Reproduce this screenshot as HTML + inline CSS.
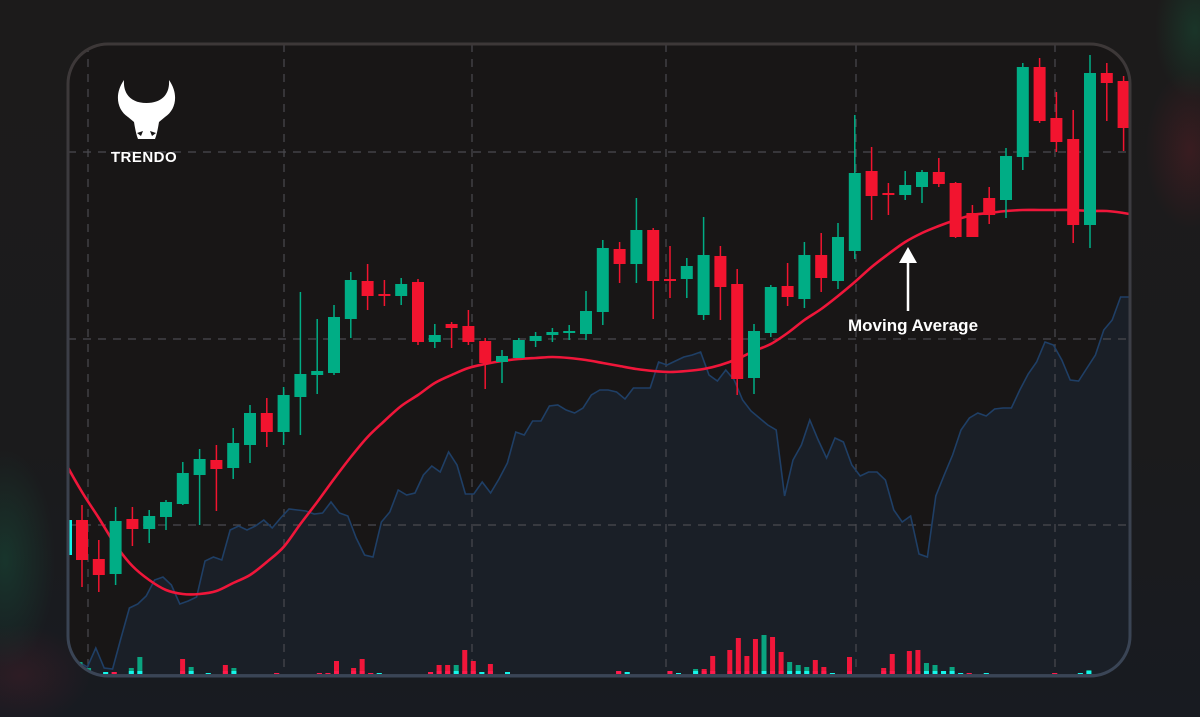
<!DOCTYPE html>
<html><head><meta charset="utf-8"><style>
html,body{margin:0;padding:0;width:1200px;height:717px;overflow:hidden;background:#1a1a1a;font-family:"Liberation Sans",sans-serif}
#bg{position:absolute;left:0;top:0;width:1200px;height:717px}
svg{position:absolute;left:0;top:0}
</style></head><body>
<div id="bg" style="background:
radial-gradient(ellipse 50px 110px at 5px 560px, rgba(20,120,80,0.28), transparent),
radial-gradient(ellipse 45px 80px at 1190px 150px, rgba(160,30,50,0.22), transparent),
radial-gradient(ellipse 40px 70px at 1195px 30px, rgba(20,130,80,0.25), transparent),
radial-gradient(ellipse 70px 50px at 20px 675px, rgba(120,30,50,0.22), transparent),
linear-gradient(#1c1b1b 0%, #1b1b1c 60%, #181b21 100%);"></div>
<svg id="chart" width="1200" height="717" viewBox="0 0 1200 717">
<defs>
<clipPath id="panelClip"><rect x="68" y="44" width="1062" height="632" rx="40"/></clipPath>
<linearGradient id="borderGrad" x1="0" y1="0" x2="0" y2="1"><stop offset="0" stop-color="#3d3838"/><stop offset="1" stop-color="#3a4556"/></linearGradient>
</defs>
<rect x="68" y="44" width="1062" height="632" rx="40" fill="#181616"/>
<g id="plot" clip-path="url(#panelClip)"></g>
<rect x="68" y="44" width="1062" height="632" rx="40" fill="none" stroke="url(#borderGrad)" stroke-width="3"/>
<g>
<path d="M124 80 C114 94 117 110 128 117 L134 122 C135 128 136 134 138 139 L155 139 C157 134 158 128 159 122 L165 117 C176 110 179 94 169 80 C170 94 162 103 146.5 103 C131 103 123 94 124 80 Z" fill="#ffffff"/>
<path d="M137 133 L143 131 L141 136 Z M156 133 L150 131 L152 136 Z" fill="#181616"/>
<text x="144" y="162" text-anchor="middle" font-size="15" font-weight="bold" fill="#ffffff" letter-spacing="0.5">TRENDO</text>
</g>
<g>
<line x1="908" y1="262" x2="908" y2="311" stroke="#ffffff" stroke-width="2.5"/>
<polygon points="908,247 899,263 917,263" fill="#ffffff"/>
<text x="913" y="331" text-anchor="middle" font-size="17" font-weight="bold" fill="#ffffff">Moving Average</text>
</g>
</svg>
<script>
// price units: p ; volume units: v
const opens  = [180,141,126,181,171,183,196,225,240,232,255,287,268,303,325,327,381,419,406,404,418,358,376,374,359,338,342,359,365,367,366,388,451,436,470,421,421,385,444,416,322,367,414,401,445,419,449,529,507,505,513,528,517,487,502,500,543,633,582,561,475,627,619];
const closes = [140,125,179,171,184,198,227,241,231,257,287,268,305,326,329,383,420,404,404,416,358,365,372,358,337,344,360,364,368,369,389,452,436,470,419,420,434,445,413,321,369,413,403,445,422,463,527,504,505,515,528,516,463,463,485,544,633,579,558,475,627,617,572];
const highs  = [195,160,193,193,190,200,238,251,255,272,295,302,313,408,381,395,428,436,420,422,421,376,378,390,362,350,362,368,372,375,409,460,458,502,472,454,442,483,454,431,376,415,437,458,467,477,585,553,517,529,530,542,518,495,513,552,637,642,608,590,645,637,624];
const lows   = [113,108,115,154,157,170,195,175,189,221,237,253,255,265,306,325,362,390,394,395,355,352,352,355,311,317,342,353,358,360,360,375,417,417,381,402,402,380,380,305,306,363,394,392,408,411,441,480,485,500,497,513,462,463,476,482,530,577,548,457,452,579,549];
const maValues = [238,208,182,155,134,120,110,106,106,109,117,125,138,153,176,198,221,243,263,279,294,305,317,325,332,336,339,341,342,343,342,340,337,334,331,329,328,329,331,335,341,349,356,367,380,391,404,418,433,446,458,467,474,480,485,487,489,490,490,490,490,489,489,487];
const areaValues = [38,33,52,32,31,62,92,96,104,120,123,115,96,99,103,139,143,140,170,174,170,174,180,172,182,191,190,189,186,187,198,187,184,162,145,143,178,188,210,205,207,225,234,228,248,235,206,206,218,207,221,237,268,265,279,279,294,295,290,287,292,305,310,310,308,301,312,312,312,338,335,339,343,345,348,325,319,330,320,300,289,282,275,270,204,240,255,280,260,242,262,258,235,224,228,228,220,190,178,184,146,143,204,225,245,270,282,287,284,291,292,292,310,326,338,358,355,340,320,319,332,345,370,380,403,403];
const volIndex = [0,1,3,4,6,7,12,13,15,17,18,22,23,25,28,29,30,32,33,34,35,41,42,43,44,45,46,47,48,50,51,63,64,69,70,72,73,74,75,76,77,78,79,80,81,82,83,84,85,86,87,88,89,90,94,95,97,98,99,100,101,102,103,104,106,107,114,115,117,118];
const volValues = [14,8,4,4,8,19,17,9,3,11,8,2,3,2,3,3,15,8,17,3,3,4,11,11,11,26,15,4,12,4,2,5,4,5,3,7,7,20,2,26,38,20,37,41,39,24,14,11,9,16,9,3,2,19,8,22,25,26,13,11,5,9,3,3,3,2,3,2,3,6];
const volUp = [1,1,1,0,1,1,0,1,1,0,1,1,0,1,0,0,0,0,0,0,1,0,0,0,1,0,0,1,0,1,1,0,1,0,1,1,0,0,1,0,0,0,0,1,0,0,1,1,1,0,0,1,0,0,0,0,0,0,1,1,1,1,1,0,1,0,0,0,1,1];

const NS='http://www.w3.org/2000/svg';
const plot=document.getElementById('plot');
const yP = p => 700 - p;
const xC = i => 82 + 16.8*i;
const xA = k => 79 + 8.4*k;
const xV = j => 80 + 8.55*j;
const yV = v => 676 - v;
function mk(tag,attrs){const e=document.createElementNS(NS,tag);for(const k in attrs)e.setAttribute(k,attrs[k]);plot.appendChild(e);return e;}

let d='M'+xA(0)+' 690';
areaValues.forEach((v,k)=>{d+=' L'+xA(k).toFixed(1)+' '+yP(v);});
d+=' L1135 '+yP(areaValues[areaValues.length-1])+' L1135 690 Z';
const af=mk('path',{d:d,fill:'#1a1f27'});



[88,284,472,666,856,1055].forEach(x=>{
  const g=mk('line',{x1:x,y1:44,x2:x,y2:676,stroke:'#4a4a4f','stroke-width':1.2,'stroke-dasharray':'8 7'});
  
  
});
[152,339,525].forEach(y=>{
  const g=mk('line',{x1:68,y1:y,x2:1130,y2:y,stroke:'#4a4a4f','stroke-width':1.2,'stroke-dasharray':'8 7'});
  
  
});

let ld='';
areaValues.forEach((v,k)=>{ld+=(k?' L':'M')+xA(k).toFixed(1)+' '+yP(v);});
ld+=' L1135 '+yP(areaValues[areaValues.length-1]);
const al=mk('path',{d:ld,fill:'none',stroke:'#1f3f66','stroke-width':1.6});



volIndex.forEach((j,n)=>{
  const v=volValues[n], up=volUp[n], x=xV(j)-2.5;
  const b=mk('rect',{x:x,y:yV(v),width:5,height:v,fill:up?'#0aa480':'#f0163a'});
  
  
  const bs=mk('rect',{x:x,y:yV(Math.min(v,5)),width:5,height:Math.min(v,5),fill:up?'#15f5ea':'#ff1b4d'});
  
  
});
const base=mk('rect',{x:68,y:674,width:1062,height:4,fill:'#36404f'});



const pts=maValues.map((v,n)=>[xC(n-1),yP(v)]);
pts.unshift([60,yP(maValues[0])-15]);
pts.push([1135,yP(maValues[maValues.length-1])+2]);
let md='M'+pts[0][0]+' '+pts[0][1];
for(let i=0;i<pts.length-1;i++){
  const p0=pts[Math.max(0,i-1)],p1=pts[i],p2=pts[i+1],p3=pts[Math.min(pts.length-1,i+2)];
  const c1=[p1[0]+(p2[0]-p0[0])/6,p1[1]+(p2[1]-p0[1])/6],c2=[p2[0]-(p3[0]-p1[0])/6,p2[1]-(p3[1]-p1[1])/6];
  md+=` C${c1[0].toFixed(1)} ${c1[1].toFixed(1)} ${c2[0].toFixed(1)} ${c2[1].toFixed(1)} ${p2[0].toFixed(1)} ${p2[1].toFixed(1)}`;
}
const ma=mk('path',{d:md,fill:'none',stroke:'#f0163a','stroke-width':2.6});



const lead=mk('rect',{x:66,y:520,width:6,height:35,fill:'#15f5ea'});



opens.forEach((o,i)=>{
  const c=closes[i],up=c>=o,col=up?'#00ad85':'#f2142f',x=xC(i);
  const w=mk('line',{x1:x,y1:yP(highs[i]),x2:x,y2:yP(lows[i]),stroke:col,'stroke-width':1.5});
  
  
  const top=yP(Math.max(o,c)),h=Math.max(2,Math.abs(o-c));
  const b=mk('rect',{x:x-6,y:top,width:12,height:h,fill:col});
  
  
});
</script>
</body></html>
